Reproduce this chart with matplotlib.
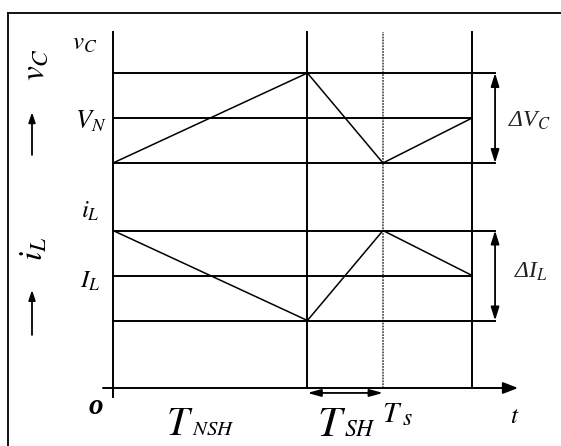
import matplotlib.pyplot as plt

plt.rcParams["mathtext.fontset"] = "stix"
plt.rcParams["font.family"] = ["Liberation Serif", "DejaVu Serif"]

# switching instants over one period (units of Ts)
t_pts = [0.0, 0.72, 1.0, 1.33]
# capacitor voltage and inductor current at those instants
vc = [5.0, 7.0, 5.0, 6.0]
il = [3.5, 1.5, 3.5, 2.5]
# reference levels
vc_levels = [7.0, 6.0, 5.0]   # max, V_N, min
il_levels = [3.5, 2.5, 1.5]   # max, I_L, min

W, H = 561, 446
fig = plt.figure(figsize=(W / 100, H / 100), dpi=100)
ax = fig.add_axes([0, 0, 1, 1])
ax.set_xlim(-113 / 270, (W - 113) / 270)
ax.set_ylim((388 - H) / 45, 388 / 45)
ax.axis("off")

k = "black"
LW = 1.4
y_top = 7.91
t_end = t_pts[-1]
t_bracket = 1.415

# outer frame (left and top edges)
fig.add_artist(plt.Line2D([8 / W, 8 / W], [0, 1 - 13 / H], color=k, lw=1.3,
                          transform=fig.transFigure))
fig.add_artist(plt.Line2D([8 / W, 1], [1 - 13 / H, 1 - 13 / H], color=k, lw=1.3,
                          transform=fig.transFigure))

# axes
ax.plot([0, 0], [-0.2, y_top], color=k, lw=LW)
ax.annotate("", xy=(1.50, 0), xytext=(-0.037, 0),
            arrowprops=dict(arrowstyle="-|>,head_length=0.9,head_width=0.35",
                            color=k, lw=LW, shrinkA=0, shrinkB=0))

# switching instants
ax.plot([t_pts[1]] * 2, [0, y_top], color=k, lw=LW)
ax.plot([t_pts[2]] * 2, [0, y_top], color="#555555", lw=1.3, ls=(0, (1, 0.6)))
ax.plot([t_end] * 2, [0, y_top], color=k, lw=LW)

# level lines
for lv in (vc_levels[0], vc_levels[2], il_levels[0], il_levels[2]):
    ax.plot([0, t_bracket], [lv, lv], color=k, lw=LW)
for lv in (vc_levels[1], il_levels[1]):
    ax.plot([0, t_end], [lv, lv], color=k, lw=LW)

# waveforms
ax.plot(t_pts, vc, color=k, lw=1.1)
ax.plot(t_pts, il, color=k, lw=1.1)

# ripple brackets
dbl = dict(arrowstyle="<|-|>,head_length=0.8,head_width=0.25", color=k, lw=1.3,
           shrinkA=0, shrinkB=0)
ax.annotate("", xy=(t_bracket, vc_levels[0]), xytext=(t_bracket, vc_levels[2]),
            arrowprops=dbl)
ax.annotate("", xy=(t_bracket, il_levels[0]), xytext=(t_bracket, il_levels[2]),
            arrowprops=dbl)
ax.annotate("", xy=(t_pts[1], -0.11), xytext=(t_pts[2], -0.11),
            arrowprops=dict(arrowstyle="<|-|>,head_length=0.8,head_width=0.22",
                            color=k, lw=1.3, shrinkA=0, shrinkB=0))

# level labels
ax.text(-0.104, 7.64, r"$v_{C}$", fontsize=18, ha="center", va="center")
ax.text(-0.081, 5.93, r"$V_N$", fontsize=19, ha="center", va="center")
ax.text(-0.085, 3.93, r"$i_L$", fontsize=18, ha="center", va="center")
ax.text(-0.085, 2.38, r"$I_L$", fontsize=18, ha="center", va="center")
ax.text(-0.063, -0.42, "o", fontsize=21, ha="center", va="center",
        fontstyle="italic", fontweight="bold")
ax.text(1.544, 5.93, r"ΔV$_C$", fontsize=17, fontstyle="italic",
        ha="center", va="center", color="#222222")
ax.text(1.548, 2.58, r"ΔI$_L$", fontsize=17, fontstyle="italic",
        ha="center", va="center", color="#222222")

# time labels: large T with small subscript set beside it
ax.text(0.196, -1.044, r"$T$", fontsize=29, ha="left", va="baseline")
ax.text(0.292, -1.044, r"$NSH$", fontsize=15, ha="left", va="baseline")
ax.text(0.755, -1.067, r"$T$", fontsize=31, ha="left", va="baseline")
ax.text(0.855, -1.067, r"$SH$", fontsize=17, ha="left", va="baseline")
ax.text(0.996, -0.756, r"$T$", fontsize=21, ha="left", va="baseline")
ax.text(1.07, -0.822, r"$s$", fontsize=17, ha="left", va="baseline")
ax.text(1.489, -0.644, r"$t$", fontsize=18, ha="center", va="center")

# side axis captions with upward arrows
ax.text(-0.289, 7.18, r"$v_C$", fontsize=24, rotation=90, ha="center", va="center")
ax.annotate("", xy=(-0.3, 6.13), xytext=(-0.3, 5.18),
            arrowprops=dict(arrowstyle="-|>,head_length=0.6,head_width=0.2",
                            color=k, lw=1.3, shrinkA=0, shrinkB=0))
ax.text(-0.293, 3.09, r"$i_L$", fontsize=24, rotation=90, ha="center", va="center")
ax.annotate("", xy=(-0.3, 2.18), xytext=(-0.3, 1.18),
            arrowprops=dict(arrowstyle="-|>,head_length=0.6,head_width=0.2",
                            color=k, lw=1.3, shrinkA=0, shrinkB=0))

fig.savefig("out.png", dpi=100, facecolor="white")
